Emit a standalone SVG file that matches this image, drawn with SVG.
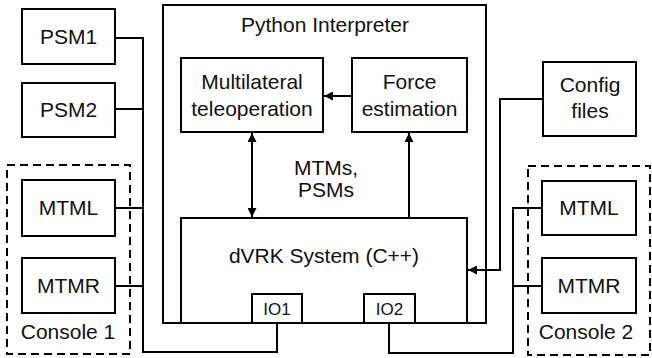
<svg xmlns="http://www.w3.org/2000/svg" width="652" height="358" viewBox="0 0 652 358">
<defs>
<style>
.b{fill:#fff;stroke:#000;stroke-width:2}
.d{fill:none;stroke:#000;stroke-width:2;stroke-dasharray:8,5}
.c{fill:none;stroke:#000;stroke-width:2}
text{font-family:"Liberation Sans",Arial,sans-serif;font-size:21px;fill:#111;text-anchor:middle}
.s{font-size:17px}
</style>
<marker id="ah" viewBox="0 0 10 10" refX="10" refY="5" markerWidth="4.5" markerHeight="4.5" orient="auto-start-reverse" markerUnits="strokeWidth">
<path d="M0,0 L10,5 L0,10 Z" fill="#000"/>
</marker>
</defs>
<rect width="652" height="358" fill="#fff"/>
<g id="console1"><rect class="d" x="7" y="165" width="123" height="189"/><text x="68" y="339">Console 1</text></g>
<g id="console2"><rect class="d" x="528" y="166" width="122" height="189"/><text x="586" y="339">Console 2</text></g>
<g id="interpreter"><rect class="b" x="163" y="5" width="323" height="318"/><text x="325" y="32">Python Interpreter</text></g>
<g id="connectors">
<polyline class="c" points="115,38 143,38 143,352 277,352 277,323"/>
<line class="c" x1="115" y1="109" x2="143" y2="109"/>
<line class="c" x1="115" y1="208" x2="143" y2="208"/>
<line class="c" x1="115" y1="286" x2="143" y2="286"/>
<polyline class="c" points="542,208 513,208 513,353 389,353 389,323"/>
<line class="c" x1="513" y1="286" x2="542" y2="286"/>
<polyline class="c" points="543,99 500,99 500,270 468,270" marker-end="url(#ah)"/>
<line class="c" x1="352" y1="96" x2="324" y2="96" marker-end="url(#ah)"/>
<line class="c" x1="252" y1="133" x2="252" y2="217" marker-start="url(#ah)" marker-end="url(#ah)"/>
<line class="c" x1="409" y1="218" x2="409" y2="133" marker-end="url(#ah)"/>
</g>
<g id="psm1"><rect class="b" x="22" y="9" width="93" height="55"/><text x="68.5" y="44">PSM1</text></g>
<g id="psm2"><rect class="b" x="22" y="83" width="93" height="54"/><text x="68.5" y="117">PSM2</text></g>
<g id="mtml1"><rect class="b" x="22" y="180" width="93" height="56"/><text x="68.5" y="215">MTML</text></g>
<g id="mtmr1"><rect class="b" x="22" y="258" width="93" height="55"/><text x="68.5" y="293">MTMR</text></g>
<g id="mtml2"><rect class="b" x="542" y="181" width="94" height="54"/><text x="589" y="215">MTML</text></g>
<g id="mtmr2"><rect class="b" x="542" y="258" width="94" height="55"/><text x="589" y="293">MTMR</text></g>
<g id="config"><rect class="b" x="543" y="62" width="93" height="74"/><text x="590" y="92">Config</text><text x="590" y="118">files</text></g>
<g id="multilateral"><rect class="b" x="181" y="58" width="142" height="74"/><text x="252" y="89">Multilateral</text><text x="252" y="116">teleoperation</text></g>
<g id="force"><rect class="b" x="352" y="58" width="115" height="74"/><text x="409.5" y="89">Force</text><text x="409.5" y="116">estimation</text></g>
<g id="label"><text x="326" y="175">MTMs,</text><text x="326" y="197">PSMs</text></g>
<g id="dvrk"><rect class="b" x="181" y="218" width="286" height="105"/><text x="324" y="263">dVRK System (C++)</text></g>
<g id="io1"><rect class="b" x="252" y="294" width="50" height="29"/><text class="s" x="277" y="315">IO1</text></g>
<g id="io2"><rect class="b" x="364" y="294" width="51" height="29"/><text class="s" x="389.5" y="315">IO2</text></g>
</svg>
